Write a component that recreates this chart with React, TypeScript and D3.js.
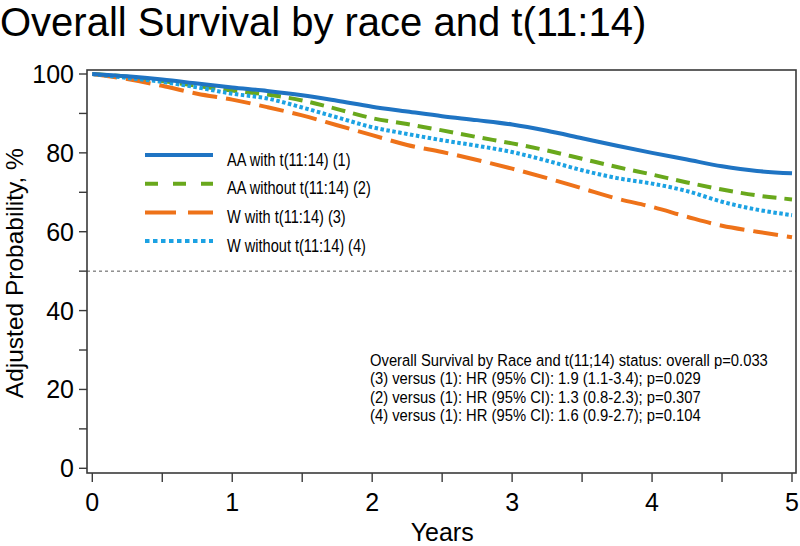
import React from 'react';
import * as d3 from 'd3';

const years = [0, 0.25, 0.5, 0.75, 1, 1.25, 1.5, 1.75, 2, 2.25, 2.5, 2.75, 3, 3.25, 3.5, 3.75, 4, 4.25, 4.5, 4.75, 5];
const aaWith = [100, 99.4, 98.6, 97.6, 96.6, 95.7, 94.6, 93.2, 91.7, 90.5, 89.3, 88.3, 87.2, 85.6, 83.7, 81.8, 80.0, 78.3, 76.6, 75.4, 74.8];
const aaWithout = [100, 99.3, 98.2, 97.0, 95.8, 94.8, 93.3, 91.1, 88.8, 87.3, 85.7, 84.0, 82.4, 80.6, 78.5, 76.4, 74.5, 72.5, 70.7, 69.2, 68.2];
const wWith = [100, 98.7, 97.0, 95.0, 93.5, 91.6, 89.5, 87.0, 84.5, 82.0, 80.2, 78.2, 76.0, 73.6, 71.0, 68.4, 66.3, 63.8, 61.5, 60.0, 58.6];
const wWithout = [100, 99.0, 98.0, 96.6, 95.0, 93.8, 91.5, 89.0, 86.5, 84.8, 83.2, 81.8, 80.2, 78.0, 75.6, 73.6, 72.2, 70.3, 67.6, 65.6, 64.2];

const seriesNames = ['AA with t(11:14) (1)', 'AA without t(11:14) (2)', 'W with t(11:14) (3)', 'W without t(11:14) (4)'];
const xTickValues = [0, 0.5, 1, 1.5, 2, 2.5, 3, 3.5, 4, 4.5, 5];
const xTickLabels = [0, 1, 2, 3, 4, 5];
const yTickValues = [0, 10, 20, 30, 40, 50, 60, 70, 80, 90, 100];
const yTickLabels = [0, 20, 40, 60, 80, 100];
const referenceLevel = 50;

const title = 'Overall Survival by race and t(11:14)';
const xTitle = 'Years';
const yTitle = 'Adjusted Probability, %';
const annotation = [
  'Overall Survival by Race and t(11;14) status: overall p=0.033',
  '(3) versus (1): HR (95% CI): 1.9 (1.1-3.4); p=0.029',
  '(2) versus (1): HR (95% CI): 1.3 (0.8-2.3); p=0.307',
  '(4) versus (1): HR (95% CI): 1.6 (0.9-2.7); p=0.104',
];

const FONT = '"Liberation Sans", Arial, Helvetica, sans-serif';

const styles = [
  { color: '#1f74c3', plotDash: null, legendDash: null },
  { color: '#69a81c', plotDash: '14,8', legendDash: '13,15' },
  { color: '#ee7219', plotDash: '25,9', legendDash: '31,12' },
  { color: '#1ca2e3', plotDash: '3.5,2.5', legendDash: '4.5,3.5' },
];

export default function App() {
  const W = 800, H = 546;
  const box = { left: 87, right: 796, top: 70, bottom: 473 };
  const x = d3.scaleLinear().domain([0, 5]).range([92.3, 792]);
  const y = d3.scaleLinear().domain([0, 100]).range([468.3, 74]);

  const allSeries = [aaWith, aaWithout, wWith, wWithout];
  const line = d3
    .line<number>()
    .x((_, i) => x(years[i]))
    .y((d) => y(d))
    .curve(d3.curveMonotoneX);

  const drawOrder = [1, 2, 3, 0];
  const axisColor = '#3a3a3a';

  return (
    <svg width={W} height={H} style={{ position: 'absolute', left: 0, top: 0, background: '#fff' }} fontFamily={FONT}>
      <rect x={0} y={0} width={W} height={H} fill="#fff" />
      <text x={0} y={36} fontSize={40} fill="#000">{title}</text>

      {/* reference line */}
      <line x1={box.left} x2={box.right} y1={y(referenceLevel)} y2={y(referenceLevel)} stroke="#555" strokeWidth={1} strokeDasharray="3,3" />

      {/* curves */}
      {drawOrder.map((si) => (
        <path
          key={si}
          d={line(allSeries[si]) || ''}
          fill="none"
          stroke={styles[si].color}
          strokeWidth={4}
          strokeDasharray={styles[si].plotDash || undefined}
        />
      ))}

      {/* frame */}
      <rect x={box.left} y={box.top} width={box.right - box.left} height={box.bottom - box.top} fill="none" stroke={axisColor} strokeWidth={1.6} />

      {/* y ticks */}
      {yTickValues.map((v) => (
        <line key={'yt' + v} x1={79} x2={box.left} y1={y(v)} y2={y(v)} stroke={axisColor} strokeWidth={1.4} />
      ))}
      {yTickLabels.map((v) => (
        <text key={'yl' + v} x={74} y={y(v) + 9} fontSize={25} textAnchor="end" fill="#000">{v}</text>
      ))}

      {/* x ticks */}
      {xTickValues.map((v) => (
        <line key={'xt' + v} x1={x(v)} x2={x(v)} y1={box.bottom} y2={482} stroke={axisColor} strokeWidth={1.4} />
      ))}
      {xTickLabels.map((v) => (
        <text key={'xl' + v} x={x(v)} y={511} fontSize={25} textAnchor="middle" fill="#000">{v}</text>
      ))}

      <text x={(x(0) + x(5)) / 2} y={541} fontSize={25} textAnchor="middle" fill="#000">{xTitle}</text>
      <text transform={`translate(23, ${(y(0) + y(100)) / 2 + 2}) rotate(-90)`} fontSize={24.5} textAnchor="middle" fill="#000">{yTitle}</text>

      {/* legend */}
      {seriesNames.map((name, i) => {
        const ly = 155 + i * 28.7;
        return (
          <g key={name}>
            <line x1={145} x2={213} y1={ly} y2={ly} stroke={styles[i].color} strokeWidth={4} strokeDasharray={styles[i].legendDash || undefined} />
            <text transform={`translate(227, ${ly + 10.5}) scale(0.81, 1)`} fontSize={18} fill="#000">{name}</text>
          </g>
        );
      })}

      {/* annotation */}
      {annotation.map((t, i) => (
        <text key={i} transform={`translate(370, ${366 + i * 18.3}) scale(0.86, 1)`} fontSize={17.2} fill="#000">{t}</text>
      ))}
    </svg>
  );
}
